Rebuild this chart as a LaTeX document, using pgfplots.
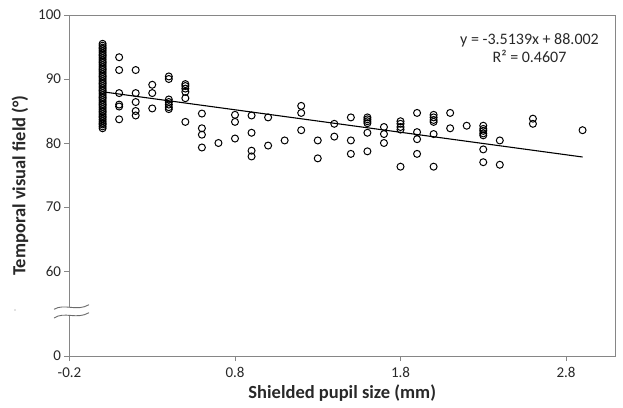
\documentclass[border=0pt]{standalone}
\usepackage{fontspec}
\setmainfont{Carlito}
\usepackage{pgfplots}
\pgfplotsset{compat=1.18}
\definecolor{axgray}{RGB}{134,134,134}
\definecolor{txt}{RGB}{40,40,40}
\begin{document}
\begin{tikzpicture}
\useasboundingbox (-69.5pt,-51pt) rectangle (553.5pt,356pt);
\begin{axis}[
  at={(0pt,0pt)}, anchor=south west,
  scale only axis, width=545.5pt, height=341pt,
  xmin=-0.2, xmax=3.096, ymin=46.72, ymax=100,
  xtick={-0.2,0.8,1.8,2.8}, xticklabels={-0.2,0.8,1.8,2.8},
  ytick={46.72,60,70,80,90,100}, yticklabels={0,60,70,80,90,100},
  tick align=outside, tick pos=left, major tick length=5pt,
  axis line style={axgray, line width=0.9pt}, tick style={axgray, line width=0.9pt},
  ticklabel style={font=\fontsize{15}{17}\selectfont, text=txt},
  xticklabel style={yshift=-3pt},
  /pgf/number format/assume math mode=true,
  every axis x label/.style={at={(axis description cs:0.5,0)}, yshift=-37pt, anchor=center},
  every axis y label/.style={at={(axis description cs:0,0.5)}, xshift=-49.5pt, rotate=90, anchor=center},
  label style={font=\fontsize{18.5}{21}\selectfont\bfseries, text=txt},
  xlabel={Shielded pupil size (mm)},
  ylabel={Temporal visual field (°)},
  clip=false,
]
\addplot[only marks, mark=o, mark size=3.5pt, mark options={black, line width=1pt}] table {
x y
0 82.3
0 82.6
0 82.9
0 83.1
0 83.4
0 83.7
0 84.0
0 84.2
0 84.5
0 84.8
0 85.0
0 85.3
0 85.6
0 85.9
0 86.1
0 86.4
0 86.7
0 87.0
0 87.2
0 87.5
0 87.8
0 88.1
0 88.3
0 88.6
0 88.9
0 89.2
0 89.4
0 89.7
0 90.0
0 90.3
0 90.5
0 90.8
0 91.1
0 91.4
0 91.6
0 91.9
0 92.2
0 92.5
0 92.7
0 93.0
0 93.3
0 93.6
0 93.8
0 94.1
0 94.4
0 94.7
0 94.9
0 95.2
0 95.5
0.1 93.4
0.1 91.4
0.1 87.8
0.1 86.0
0.1 85.7
0.1 83.7
0.2 91.4
0.2 87.8
0.2 86.4
0.2 85.0
0.2 84.3
0.3 89.1
0.3 87.8
0.3 85.4
0.4 90.4
0.4 90.0
0.4 86.8
0.4 86.4
0.4 86.0
0.4 85.6
0.4 85.3
0.5 89.2
0.5 88.9
0.5 88.5
0.5 88.0
0.5 87.0
0.5 83.3
0.6 84.6
0.6 82.3
0.6 81.3
0.6 79.3
0.7 80.0
0.8 84.4
0.8 83.3
0.8 80.7
0.9 84.3
0.9 81.6
0.9 78.8
0.9 77.9
1.0 84.0
1.0 79.6
1.1 80.4
1.2 85.8
1.2 84.7
1.2 82.0
1.3 80.4
1.3 77.6
1.4 83.0
1.4 81.0
1.5 84.0
1.5 80.4
1.5 78.3
1.6 84.0
1.6 83.7
1.6 83.4
1.6 83.1
1.6 81.6
1.6 78.7
1.7 82.5
1.7 81.4
1.7 80.0
1.8 83.4
1.8 83.0
1.8 82.5
1.8 82.1
1.8 76.3
1.9 84.7
1.9 81.7
1.9 80.6
1.9 78.3
2.0 84.4
2.0 84.0
2.0 83.6
2.0 83.3
2.0 81.4
2.0 76.3
2.1 84.7
2.1 82.3
2.2 82.7
2.3 82.7
2.3 82.2
2.3 81.9
2.3 81.5
2.3 81.2
2.3 79.0
2.3 77.0
2.4 80.4
2.4 76.6
2.6 83.8
2.6 83.0
2.9 82.0
};
\addplot[black, line width=1.1pt] coordinates {(0,88.002) (2.9,77.812)};
\end{axis}
% box top and right
\draw[axgray, line width=0.9pt] (0pt,341pt) -- (545.5pt,341pt) -- (545.5pt,0pt);
% axis break
\fill[white] (-15.5pt,46.7pt) .. controls (-5pt,53pt) and (7pt,44pt) .. (19.5pt,51.3pt)
  -- (19.5pt,43.3pt) .. controls (7pt,36pt) and (-5pt,45pt) .. (-15.5pt,38pt) -- cycle;
\draw[axgray!80!black, line width=0.9pt] (-15.5pt,46.7pt) .. controls (-5pt,53pt) and (7pt,44pt) .. (19.5pt,51.3pt);
\draw[axgray!80!black, line width=0.9pt] (-15.5pt,38pt) .. controls (-5pt,45pt) and (7pt,36pt) .. (19.5pt,43.3pt);
\fill[gray] (-54.5pt,46pt) circle (0.7pt);
% regression equation
\node[align=center, font=\fontsize{16}{18}\selectfont, text=txt] at (460pt,308pt) {y = -3.5139x + 88.002\\R² = 0.4607};
\end{tikzpicture}
\end{document}
